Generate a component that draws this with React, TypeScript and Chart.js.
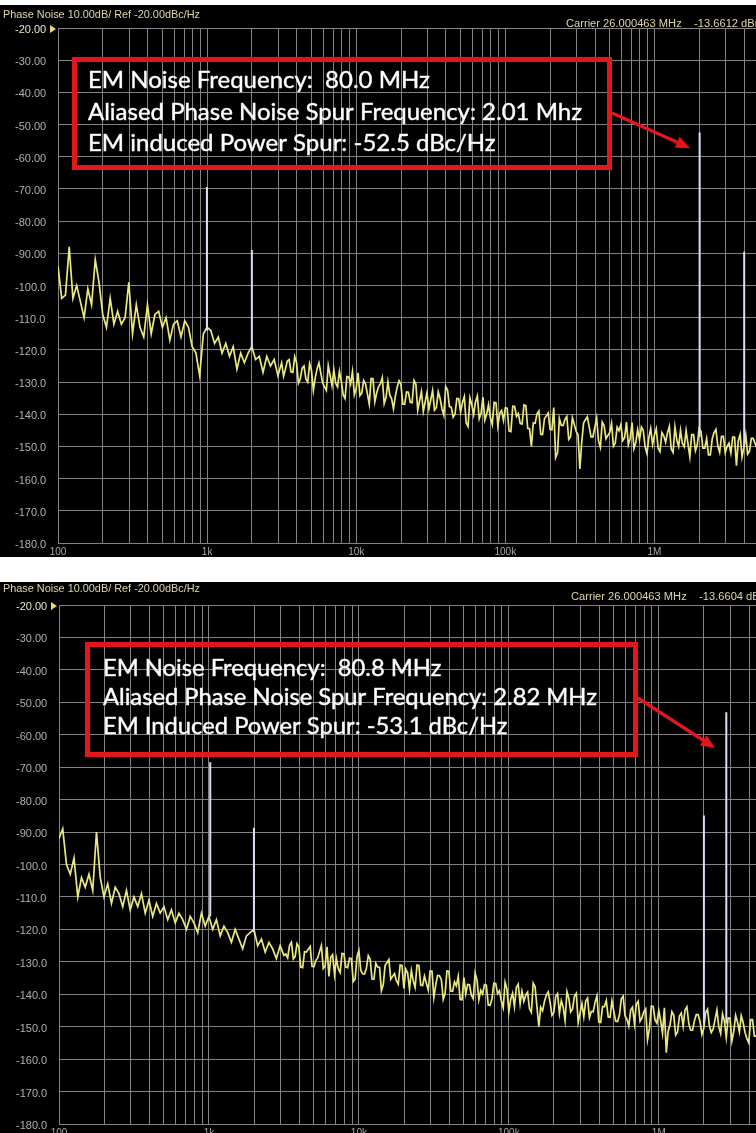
import React, { useEffect, useRef } from 'react';
import { Chart, registerables } from 'chart.js';

Chart.register(...registerables);

// ---------------- data ----------------
// sweep offset frequencies (Hz)
const sweepFreqs = [
  100, 105.9, 112.2, 118.9, 125.9, 133.4, 141.3, 149.6, 158.5, 167.9, 177.8, 188.4, 199.5, 211.3, 223.9, 237.1, 251.2, 266.1, 281.8, 298.5,
  316.2, 335, 354.8, 375.8, 398.1, 421.7, 446.7, 473.2, 501.2, 530.9, 562.3, 595.7, 631, 668.3, 707.9, 749.9, 794.3, 841.4, 891.3, 944.1,
  1000, 1059, 1122, 1189, 1259, 1334, 1413, 1496, 1585, 1679, 1778, 1884, 1995, 2113, 2239, 2371, 2512, 2661, 2818, 2985,
  3162, 3350, 3548, 3758, 3981, 4217, 4467, 4732, 5012, 5309, 5623, 5957, 6310, 6683, 7079, 7499, 7943, 8414, 8913, 9441,
  10000, 10590, 11220, 11890, 12590, 13340, 14130, 14960, 15850, 16790, 17780, 18840, 19950, 21130, 22390, 23710, 25120, 26610, 28180, 29850,
  31620, 33500, 35480, 37580, 39810, 42170, 44670, 47320, 50120, 53090, 56230, 59570, 63100, 66830, 70790, 74990, 79430, 84140, 89130, 94410,
  100000, 105900, 112200, 118900, 125900, 133400, 141300, 149600, 158500, 167900, 177800, 188400, 199500, 211300, 223900, 237100, 251200, 266100, 281800, 298500,
  316200, 335000, 354800, 375800, 398100, 421700, 446700, 473200, 501200, 530900, 562300, 595700, 631000, 668300, 707900, 749900, 794300, 841400, 891300, 944100,
  1000000, 1059000, 1122000, 1189000, 1259000, 1334000, 1413000, 1496000, 1585000, 1679000, 1778000, 1884000, 1995000, 2113000, 2239000, 2371000, 2512000, 2661000, 2818000, 2985000,
  3162000, 3350000, 3548000, 3758000, 3981000, 4217000, 4467000, 4732000,
];

// extra sweep points in between, above ~3 kHz (the analyser sweeps denser there)
const sweepFreqsFine = [
  3255, 3448, 3652, 3868, 4097, 4340, 4597, 4870, 5158, 5464, 5788, 6131, 6494, 6879, 7286, 7718, 8175, 8660, 9173, 9716,
  10290, 10900, 11550, 12230, 12960, 13730, 14540, 15400, 16310, 17280, 18300, 19390, 20540, 21750, 23040, 24410, 25850, 27380, 29010, 30730,
  32550, 34480, 36520, 38680, 40970, 43400, 45970, 48700, 51580, 54640, 57880, 61310, 64940, 68790, 72860, 77180, 81750, 86600, 91730, 97160,
  102900, 109000, 115500, 122300, 129600, 137300, 145400, 154000, 163100, 172800, 183000, 193900, 205400, 217500, 230400, 244100, 258500, 273800, 290100, 307300,
  325500, 344800, 365200, 386800, 409700, 434000, 459700, 487000, 515800, 546400, 578800, 613100, 649400, 687900, 728600, 771800, 817500, 866000, 917300, 971600,
  1029000, 1090000, 1155000, 1223000, 1296000, 1373000, 1454000, 1540000, 1631000, 1728000, 1830000, 1939000, 2054000, 2175000, 2304000, 2441000, 2585000, 2738000, 2901000, 3073000,
  3255000, 3448000, 3652000, 3868000, 4097000, 4340000, 4597000, 4870000,
];

// panel 1 (80.0 MHz EM noise) phase noise, dBc/Hz
const noiseTop = [
  -94, -104, -103, -88, -104, -100, -105, -110, -101, -106, -92, -99, -109, -113, -104, -112, -108, -112, -110, -99,
  -115, -106, -113, -116, -106, -115, -109, -108, -113, -110, -117, -112, -111, -116, -111, -113, -119, -121, -128, -115,
  -113, -114, -118, -116, -121, -118, -122, -119, -126, -121, -124, -121, -119, -123, -122, -127, -122, -125, -123, -128,
  -124, -126, -123, -127, -124, -129, -125, -130, -126.4, -128.7, -124, -130.3, -132.6, -127.9, -126.2, -131.5, -129.8, -135.1, -128.4, -126.7,
  -132, -134.2, -129.5, -133.7, -128.9, -136.1, -131.4, -128.6, -134.8, -134, -138.3, -131.5, -130.7, -136.9, -133.2, -136.4, -130.6, -135.8, -139.1, -133.3,
  -135.5, -138.7, -133, -138.2, -131.4, -137.6, -140.9, -135.1, -139.3, -134.5, -143.8, -137, -136.2, -141.4, -134.7, -139.9, -141.1, -136.3, -143.6, -138.8,
  -138, -145.2, -137.5, -140.7, -142.9, -137.1, -144.4, -150, -142.8, -139, -146.3, -140.5, -144.7, -137.9, -152, -143.4, -141.6, -147.8, -141.1, -145.3,
  -157, -142.7, -140.8, -147, -144.1, -148.3, -142.4, -147.6, -145.7, -149.9, -144, -143.2, -147.3, -149.5, -142.6, -148.8, -147.9, -145, -152.2, -144.4,
  -146.5, -150.6, -145.7, -148.7, -143.8, -151.9, -148, -145, -150.1, -149.2, -146.3, -151.3, -144.4, -150.5, -147.6, -152.6, -145.7, -149.8, -146.9, -151.9,
  -149, -147.1, -156, -146.3, -150.3, -152.4, -147.5, -149,
];
const noiseTopFine = [
  -128.2, -123.5, -126.8, -122.1, -130.4, -125.7, -129, -124.3, -132.6, -125.9, -127.2, -131.5, -124.8, -131.1, -130.4, -126.7, -134, -128.3, -130.6, -133.9,
  -127.1, -133.4, -130.6, -136.8, -129, -133.3, -130.5, -136.7, -129.9, -135.2, -134.4, -129.6, -136.8, -133.1, -136.3, -129.5, -138.7, -133, -136.2, -138.4,
  -132.6, -137.9, -135.1, -140.3, -132.5, -137.8, -140, -135.2, -136.4, -142.7, -134.9, -140.1, -134.3, -139.6, -141.8, -137, -143.2, -136.5, -139.7, -141.9,
  -138.1, -145.4, -137.6, -139.8, -143, -137.3, -144.5, -142.7, -139.9, -146.2, -141.4, -139.6, -144.8, -153.5, -141.3, -143.5, -140.7, -147, -143.2, -146.4,
  -148.6, -141.7, -143.9, -147, -141.2, -150.3, -143.5, -146.6, -142.8, -148.9, -145.1, -148.2, -142.4, -147.5, -150.7, -144.8, -144, -150.1, -147.3, -149.4,
  -144.5, -151.6, -146.7, -145.8, -150.8, -143.9, -150, -149.1, -145.1, -153.2, -146.3, -149.4, -145.4, -150.5, -152.6, -147.7, -144.7, -151.8, -146.9, -150,
  -152, -147.1, -148.2, -153.3, -146.4, -151.5, -147.5, -150.6,
];

// panel 2 (80.8 MHz EM noise) phase noise, dBc/Hz
const noiseBottom = [
  -92, -89, -100, -103, -98, -110, -104, -107, -103, -108, -90, -104, -110, -106, -112, -107, -109, -113, -108, -114,
  -110, -113, -109, -115, -111, -116, -112, -115, -113, -117, -114, -118, -115, -117, -120, -116, -118, -121, -115, -119,
  -116, -120, -117, -122, -119, -121, -124, -120, -123, -126, -122, -121, -120, -125, -123, -127, -124, -126, -129, -125,
  -128, -128.8, -124, -128.3, -125.5, -131.8, -127, -125.3, -131.5, -128.8, -125, -131.3, -134.5, -127.8, -129, -133.3, -127.5, -131.8, -129, -135.3,
  -126.5, -133.7, -132, -129.2, -135.4, -131.6, -138.9, -131.1, -129.3, -134.5, -135.8, -131, -138.2, -133.4, -132.7, -137.9, -131.1, -137.3, -136.6, -132.8,
  -141, -134.2, -135.5, -139.7, -132.9, -139.1, -137.4, -141.6, -134.8, -137, -140.3, -133.5, -141.7, -139.9, -137.2, -143.4, -136.6, -139.8, -142.1, -136.3,
  -145.5, -139.7, -137.9, -143, -142.2, -139.4, -145.6, -137.7, -150, -145.1, -140.3, -142.4, -145.6, -139.8, -142, -148.1, -141.3, -144.5, -139.7, -145.8,
  -147, -141.2, -145.3, -142.5, -148.6, -143.8, -141.9, -147.1, -145.2, -148.4, -141.5, -146.7, -149.8, -144, -143.1, -148.3, -145.4, -154, -143.7, -147.9,
  -145, -152, -158, -149.4, -146.5, -151.6, -145.8, -144.9, -149, -151.1, -146.3, -148.4, -150.5, -144.6, -151.8, -147.9, -150, -146.1, -153.3, -147.4,
  -151.5, -148.6, -146.6, -151.7, -155, -147.8, -152.9, -149,
];
const noiseBottomFine = [
  -127.6, -124.9, -129.1, -124.4, -131.6, -126.9, -126.1, -131.4, -129.6, -126.9, -132.1, -125.4, -128.6, -133.9, -132.1, -127.4, -131.6, -128.9, -136.1, -128.4,
  -132.6, -133.8, -128.1, -135.3, -130.5, -131.7, -137, -130.2, -135.4, -133.6, -136.9, -131.1, -132.3, -138.5, -135.8, -131, -137.2, -134.4, -138.7, -132.9,
  -137.1, -134.3, -141.6, -132.8, -139, -136.2, -134.5, -141.7, -139.9, -137.1, -141.4, -135.6, -138.8, -137, -143.3, -141.5, -136.7, -138.9, -144.2, -138.4,
  -141.6, -143.8, -136.9, -139.1, -140.3, -144.5, -136.6, -143.8, -144, -142.2, -139.3, -146.5, -140.7, -145.9, -144, -139.2, -145.4, -140.6, -148.7, -142.9,
  -142.1, -147.2, -145.4, -140.5, -148.7, -143.8, -147, -142.1, -148.3, -146.4, -140.6, -147.7, -144.9, -149, -142.2, -147.3, -144.5, -150.6, -143.8, -148.9,
  -148.1, -144.2, -151.3, -145.4, -152.6, -146.7, -149.8, -143.9, -151.1, -148.2, -146.3, -152.4, -145.6, -149.7, -150.8, -144.9, -152.1, -148.2, -147.3, -154.4,
  -146.5, -151.6, -148.7, -153.7, -147.8, -152.9, -149, -152,
];

// discrete spurs: frequency, peak level, level of the floor under it
const spurFreqsTop = [997, 1996, 2010000, 4000000];
const spurPeaksTop = [-69.4, -89, -52.5, -89.5];
const spurFloorTop = [-114, -120, -147, -150];

const spurFreqsBottom = [1020, 1995, 2000000, 2820000];
const spurPeaksBottom = [-68.5, -88.7, -84.9, -53.1];
const spurFloorBottom = [-116, -121, -149, -149];

// axis ticks
const xTickValues = [100, 1000, 10000, 100000, 1000000];
const xTickLabels = ['100', '1k', '10k', '100k', '1M'];
const yMin = -180;
const yMax = -20;
const yStep = 10;

// annotation texts
const headerText = 'Phase Noise 10.00dB/ Ref -20.00dBc/Hz';
const carrierTop = 'Carrier 26.000463 MHz    -13.6612 dBm';
const carrierBottom = 'Carrier 26.000463 MHz    -13.6604 dBm';
const boxLinesTop = [
  'EM Noise Frequency:  80.0 MHz',
  'Aliased Phase Noise Spur Frequency: 2.01 Mhz',
  'EM induced Power Spur: -52.5 dBc/Hz',
];
const boxLinesBottom = [
  'EM Noise Frequency:  80.8 MHz',
  'Aliased Phase Noise Spur Frequency: 2.82 MHz',
  'EM Induced Power Spur: -53.1 dBc/Hz',
];

// ---------------- styling ----------------
const GRID = '#838383';
const TRACE = '#ebe97e';
const SPUR = '#dcdcf6';
const RED = '#e3161b';
const TICK_FONT = '"Liberation Sans", Arial, sans-serif';
const BOX_FONT = 'Lato, "Open Sans", sans-serif';

type Overlay = {
  headerX: number;
  headerY: number;
  carrier: string;
  carrierX: number;
  carrierY: number;
  box: [number, number, number, number];
  lines: string[];
  textX: number;
  lineYs: number[];
  textWidth: number;
  arrow: [number, number, number, number];
};

function condensedText(ctx: CanvasRenderingContext2D, text: string, x: number, y: number, size: number, width: number) {
  ctx.save();
  ctx.font = `${size}px ${TICK_FONT}`;
  const w = ctx.measureText(text).width;
  ctx.translate(x, y);
  ctx.scale(width / w, 1);
  ctx.fillText(text, 0, 0);
  ctx.restore();
}

const overlayPlugin = {
  id: 'overlay',
  afterDraw(chart: any, _args: any, o: Overlay) {
    const ctx: CanvasRenderingContext2D = chart.ctx;
    const area = chart.chartArea;
    ctx.save();
    // header texts
    ctx.fillStyle = '#ddd6ac';
    ctx.textBaseline = 'middle';
    ctx.textAlign = 'left';
    condensedText(ctx, headerText, o.headerX, o.headerY, 11, 197);
    condensedText(ctx, o.carrier, o.carrierX, o.carrierY, 10, 198);
    // ref marker triangle
    ctx.fillStyle = '#f0d870';
    ctx.beginPath();
    ctx.moveTo(area.left - 8, area.top - 3);
    ctx.lineTo(area.left - 2, area.top + 1);
    ctx.lineTo(area.left - 8, area.top + 5);
    ctx.closePath();
    ctx.fill();
    // red box
    const [bx, by, bw, bh] = o.box;
    ctx.strokeStyle = RED;
    ctx.lineWidth = 5;
    ctx.strokeRect(bx, by, bw, bh);
    // text
    let size = 21;
    ctx.font = `${size}px ${BOX_FONT}`;
    const w = ctx.measureText(o.lines[1]).width;
    size = (size * o.textWidth) / w;
    ctx.font = `${size.toFixed(2)}px ${BOX_FONT}`;
    ctx.fillStyle = '#ffffff';
    ctx.strokeStyle = 'rgba(255,255,255,0.8)';
    ctx.lineWidth = 0.5;
    ctx.textBaseline = 'middle';
    o.lines.forEach((l, i) => {
      ctx.fillText(l, o.textX, o.lineYs[i]);
      ctx.strokeText(l, o.textX, o.lineYs[i]);
    });
    // arrow
    const [x1, y1, x2, y2] = o.arrow;
    const ang = Math.atan2(y2 - y1, x2 - x1);
    const head = 14;
    const hx = x2 - head * Math.cos(ang);
    const hy = y2 - head * Math.sin(ang);
    ctx.strokeStyle = RED;
    ctx.lineWidth = 3.5;
    ctx.beginPath();
    ctx.moveTo(x1, y1);
    ctx.lineTo(hx, hy);
    ctx.stroke();
    ctx.fillStyle = RED;
    ctx.beginPath();
    ctx.moveTo(x2, y2);
    ctx.lineTo(hx + 6 * Math.sin(ang), hy - 6 * Math.cos(ang));
    ctx.lineTo(hx - 6 * Math.sin(ang), hy + 6 * Math.cos(ang));
    ctx.closePath();
    ctx.fill();
    ctx.restore();
  },
};

type PanelSpec = {
  top: number;
  height: number;
  padTop: number;
  padLeft: number;
  yAxisWidth: number;
  xAxisHeight: number;
  xMax: number;
  values: number[];
  fineValues: number[];
  spurFreqs: number[];
  spurPeaks: number[];
  spurFloor: number[];
  overlay: Overlay;
};

function spurPoints(freqs: number[], peaks: number[], floors: number[]) {
  const pts: { x: number; y: number | null }[] = [];
  freqs.forEach((f, i) => {
    pts.push({ x: f, y: floors[i] });
    pts.push({ x: f, y: peaks[i] });
    pts.push({ x: f, y: null });
  });
  return pts;
}

function tracePoints(values: number[], fine: number[]) {
  const pts = sweepFreqs.map((f, i) => ({ x: f, y: values[i] }));
  sweepFreqsFine.forEach((f, i) => pts.push({ x: f, y: fine[i] }));
  return pts.sort((a, b) => a.x - b.x);
}

function buildConfig(spec: PanelSpec): any {
  return {
    type: 'line',
    data: {
      datasets: [
        {
          data: spurPoints(spec.spurFreqs, spec.spurPeaks, spec.spurFloor),
          borderColor: SPUR,
          borderWidth: 2,
          pointRadius: 0,
          spanGaps: false,
          tension: 0,
        },
        {
          data: tracePoints(spec.values, spec.fineValues),
          borderColor: TRACE,
          borderWidth: 1.7,
          pointRadius: 0,
          tension: 0,
        },
      ],
    },
    options: {
      responsive: false,
      animation: false,
      devicePixelRatio: 1,
      layout: { padding: { top: spec.padTop, left: spec.padLeft, right: 0, bottom: 0 } },
      plugins: {
        legend: { display: false },
        tooltip: { enabled: false },
        overlay: spec.overlay,
      },
      scales: {
        x: {
          type: 'logarithmic',
          min: 100,
          max: spec.xMax,
          afterBuildTicks: (scale: any) => {
            scale.ticks = scale.ticks.filter((t: any) => {
              const s = t.value / Math.pow(10, Math.floor(Math.log10(t.value) + 1e-9));
              return Math.abs(s - Math.round(s)) < 1e-6 && t.value < spec.xMax;
            });
          },
          afterFit: (scale: any) => {
            scale.height = spec.xAxisHeight;
          },
          grid: { color: GRID, lineWidth: 1, drawTicks: false },
          border: { color: GRID, width: 1 },
          ticks: {
            autoSkip: false,
            maxRotation: 0,
            padding: 3,
            color: '#a8a8a8',
            font: { family: TICK_FONT, size: 10 },
            callback: (v: number) => {
              const idx = xTickValues.findIndex((t) => Math.abs(t - v) < 1e-6 * t);
              return idx >= 0 ? xTickLabels[idx] : '';
            },
          },
        },
        y: {
          type: 'linear',
          min: yMin,
          max: yMax,
          afterFit: (scale: any) => {
            scale.width = spec.yAxisWidth;
          },
          grid: { color: GRID, lineWidth: 1, drawTicks: false },
          border: { color: GRID, width: 1 },
          ticks: {
            stepSize: yStep,
            crossAlign: 'far',
            labelOffset: 2,
            padding: 0,
            font: { family: TICK_FONT, size: 11 },
            color: (c: any) => (c.tick && c.tick.value === yMax ? '#ece6c8' : '#b0b0b0'),
            callback: (v: number) => (Math.abs(v) >= 100 ? v.toFixed(1) : v.toFixed(2)),
          },
        },
      },
    },
    plugins: [overlayPlugin],
  };
}

const topSpec: PanelSpec = {
  top: 5,
  height: 552,
  padTop: 23,
  padLeft: 15,
  yAxisWidth: 43,
  xAxisHeight: 14,
  xMax: 4800000,
  values: noiseTop,
  fineValues: noiseTopFine,
  spurFreqs: spurFreqsTop,
  spurPeaks: spurPeaksTop,
  spurFloor: spurFloorTop,
  overlay: {
    headerX: 3,
    headerY: 10,
    carrier: carrierTop,
    carrierX: 566,
    carrierY: 19,
    box: [74.5, 54.5, 535, 108],
    lines: boxLinesTop,
    textX: 88,
    lineYs: [75, 107, 138],
    textWidth: 494,
    arrow: [612, 108, 690, 143],
  },
};

const bottomSpec: PanelSpec = {
  top: 582,
  height: 551,
  padTop: 23,
  padLeft: 16,
  yAxisWidth: 43,
  xAxisHeight: 9,
  xMax: 4450000,
  values: noiseBottom,
  fineValues: noiseBottomFine,
  spurFreqs: spurFreqsBottom,
  spurPeaks: spurPeaksBottom,
  spurFloor: spurFloorBottom,
  overlay: {
    headerX: 3,
    headerY: 7,
    carrier: carrierBottom,
    carrierX: 571,
    carrierY: 15,
    box: [87.5, 62.5, 548, 110],
    lines: boxLinesBottom,
    textX: 103,
    lineYs: [86, 115, 144],
    textWidth: 494,
    arrow: [638, 116, 715, 166],
  },
};

function Panel({ spec }: { spec: PanelSpec }) {
  const ref = useRef<HTMLCanvasElement>(null);
  useEffect(() => {
    if (!ref.current) return;
    const chart = new Chart(ref.current, buildConfig(spec));
    return () => chart.destroy();
  }, [spec]);
  return (
    <div
      style={{
        position: 'absolute',
        left: 0,
        top: spec.top,
        width: 756,
        height: spec.height,
        background: '#000',
        overflow: 'hidden',
      }}
    >
      <canvas ref={ref} width={756} height={spec.height} style={{ display: 'block', width: 756, height: spec.height }} />
    </div>
  );
}

export default function App() {
  return (
    <div style={{ position: 'absolute', left: 0, top: 0, width: 756, height: 1133, background: '#fff', overflow: 'hidden' }}>
      <Panel spec={topSpec} />
      <Panel spec={bottomSpec} />
    </div>
  );
}
